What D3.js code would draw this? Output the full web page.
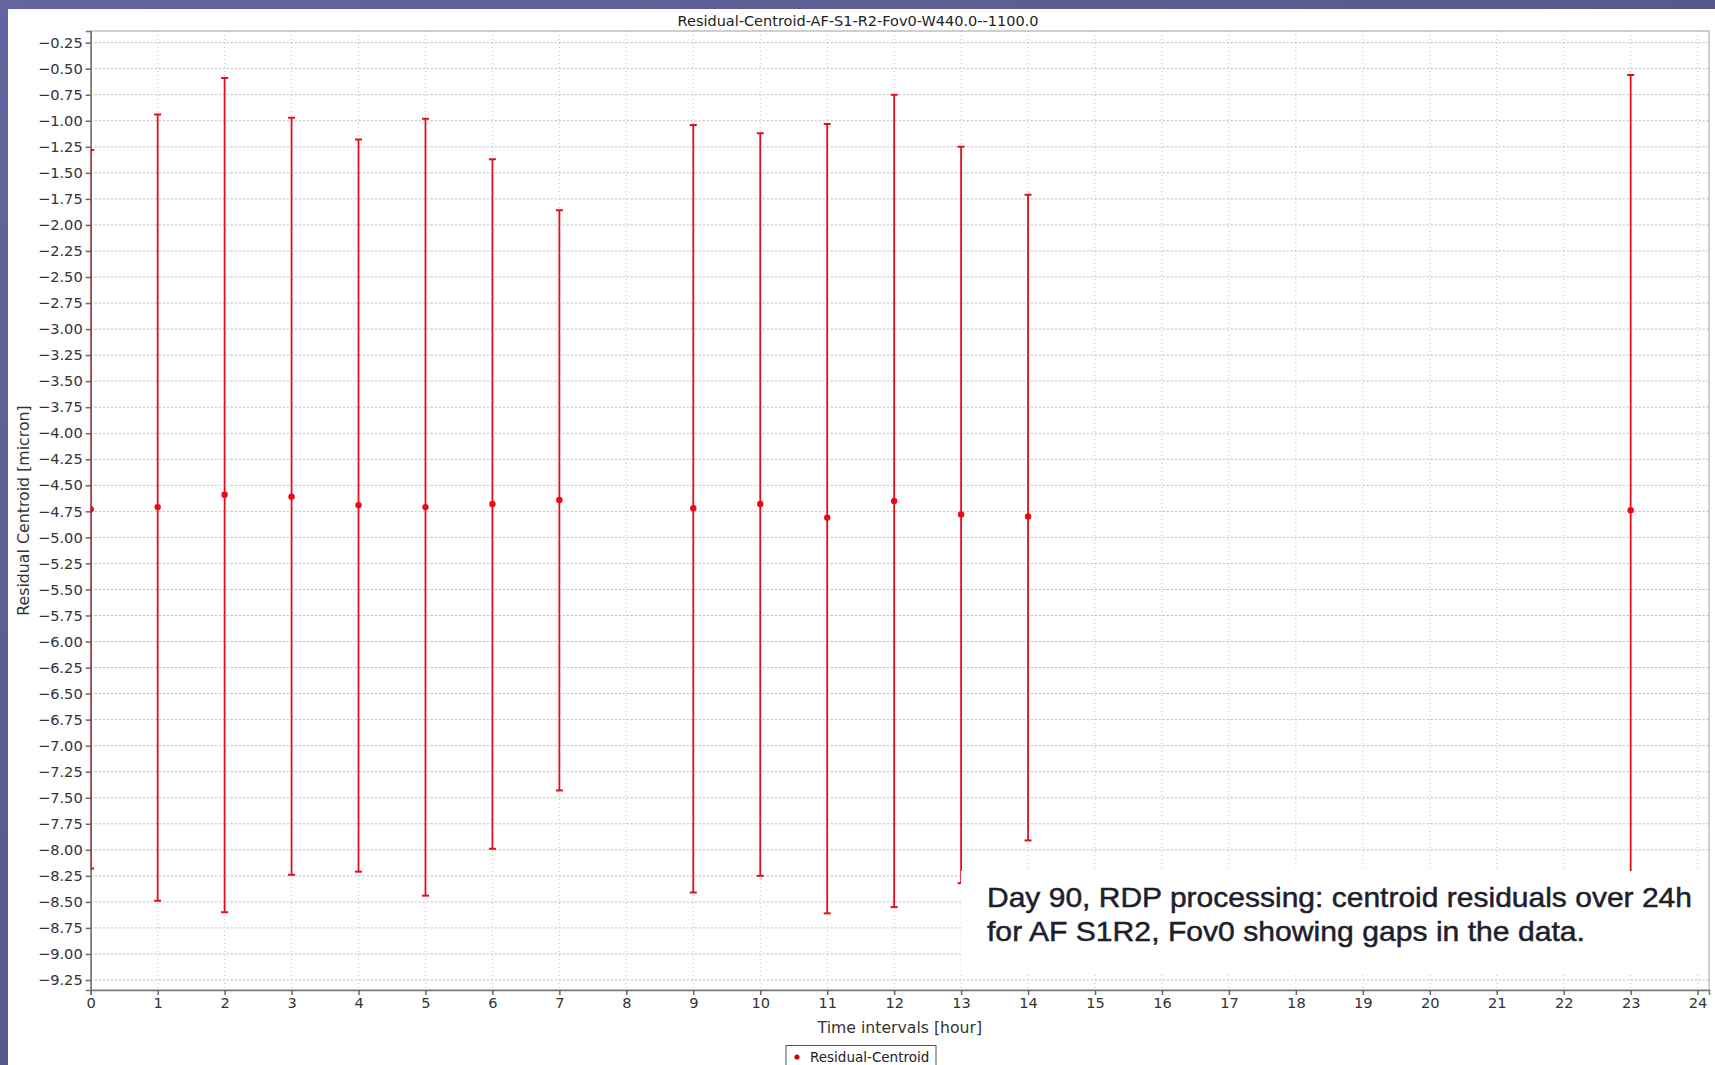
<!DOCTYPE html>
<html>
<head>
<meta charset="utf-8">
<script src="https://cdn.jsdelivr.net/npm/d3@7/dist/d3.min.js"></script>
<style>
  html, body { margin: 0; padding: 0; background: #55558a; overflow: hidden; }
  svg { display: block; }
  .tick text { font-family: "DejaVu Sans", sans-serif; fill: #333; }
</style>
</head>
<body>
<svg id="chart" width="1715" height="1065"></svg>
<script>
// Hourly centroid residuals (mean with +/- spread) for AF S1R2, Fov0
const hours = [0, 1, 2, 3, 4, 5, 6, 7, 9, 10, 11, 12, 13, 14, 23];
const means = [-4.73, -4.71, -4.59, -4.61, -4.69, -4.71, -4.68, -4.64, -4.72, -4.68, -4.81, -4.65, -4.78, -4.80, -4.74];
const upper = [-1.28, -0.94, -0.59, -0.97, -1.18, -0.98, -1.37, -1.86, -1.04, -1.12, -1.03, -0.75, -1.25, -1.71, -0.56];
const lower = [-8.18, -8.49, -8.60, -8.24, -8.21, -8.44, -7.99, -7.43, -8.41, -8.25, -8.61, -8.55, -8.32, -7.91, -8.92];

const xTickValues = [0, 1, 2, 3, 4, 5, 6, 7, 8, 9, 10, 11, 12, 13, 14, 15, 16, 17, 18, 19, 20, 21, 22, 23, 24];
const yTickValues = [-9.25, -9.00, -8.75, -8.50, -8.25, -8.00, -7.75, -7.50, -7.25, -7.00, -6.75, -6.50, -6.25,
  -6.00, -5.75, -5.50, -5.25, -5.00, -4.75, -4.50, -4.25, -4.00, -3.75, -3.50, -3.25, -3.00, -2.75, -2.50,
  -2.25, -2.00, -1.75, -1.50, -1.25, -1.00, -0.75, -0.50, -0.25];

const chartTitle = "Residual-Centroid-AF-S1-R2-Fov0-W440.0--1100.0";
const xTitle = "Time intervals [hour]";
const yTitle = "Residual Centroid [micron]";
const seriesName = "Residual-Centroid";
const noteLines = [
  "Day 90, RDP processing: centroid residuals over 24h",
  "for AF S1R2, Fov0 showing gaps in the data."
];

const points = hours.map((h, i) => ({ h, mean: means[i], hi: upper[i], lo: lower[i] }));

const svg = d3.select("#chart");

// slide background
const defs = svg.append("defs");
const bg = defs.append("linearGradient").attr("id", "bg")
  .attr("x1", "0").attr("y1", "0").attr("x2", "1").attr("y2", "1");
bg.append("stop").attr("offset", "0").attr("stop-color", "#64659e");
bg.append("stop").attr("offset", "1").attr("stop-color", "#4a4b78");
svg.append("rect").attr("width", 1715).attr("height", 1065).attr("fill", "url(#bg)");

// chart panel
svg.append("rect").attr("x", 8).attr("y", 9).attr("width", 1707).attr("height", 1056).attr("fill", "#fff");

const plot = { left: 90.7, right: 1709, top: 31, bottom: 990 };

const x = d3.scaleLinear().domain([0, 24.17]).range([plot.left, plot.right]);
const y = d3.scaleLinear().domain([-9.346, -0.138]).range([plot.bottom, plot.top]);

defs.append("clipPath").attr("id", "plotClip")
  .append("rect")
  .attr("x", plot.left).attr("y", plot.top)
  .attr("width", plot.right - plot.left).attr("height", plot.bottom - plot.top);

// grid
const grid = svg.append("g");
grid.selectAll("line.h").data(yTickValues).join("line")
  .attr("x1", plot.left).attr("x2", plot.right)
  .attr("y1", d => y(d)).attr("y2", d => y(d))
  .attr("stroke", "#b8b8b8").attr("stroke-width", 1).attr("stroke-dasharray", "2,2");
grid.selectAll("line.v").data(xTickValues).join("line")
  .attr("y1", plot.top).attr("y2", plot.bottom)
  .attr("x1", d => x(d)).attr("x2", d => x(d))
  .attr("stroke", "#c4c4c4").attr("stroke-width", 1).attr("stroke-dasharray", "1,3");

// plot outline
svg.append("rect")
  .attr("x", plot.left).attr("y", plot.top)
  .attr("width", plot.right - plot.left).attr("height", plot.bottom - plot.top)
  .attr("fill", "none").attr("stroke", "#a0a0a0").attr("stroke-width", 1);

// axes
const yAxis = svg.append("g").attr("transform", `translate(${plot.left},0)`)
  .call(d3.axisLeft(y).tickValues(yTickValues).tickFormat(d3.format(".2f")).tickSize(5).tickPadding(3));
yAxis.selectAll("text").attr("font-size", 14.6);
const xAxis = svg.append("g").attr("transform", `translate(0,${plot.bottom})`)
  .call(d3.axisBottom(x).tickValues(xTickValues).tickFormat(d3.format("d")).tickSize(5).tickPadding(3));
xAxis.selectAll("text").attr("font-size", 14.6);
[yAxis, xAxis].forEach(a => {
  a.select(".domain").attr("stroke", "#777").attr("stroke-width", 1.5);
  a.selectAll(".tick line").attr("stroke", "#666").attr("stroke-width", 1.5);
});

// error bars and means
const marks = svg.append("g").attr("clip-path", "url(#plotClip)");
const red = "#e0101c";
marks.selectAll("line.bar").data(points).join("line")
  .attr("x1", d => x(d.h)).attr("x2", d => x(d.h))
  .attr("y1", d => y(d.hi)).attr("y2", d => y(d.lo))
  .attr("stroke", red).attr("stroke-width", 1.8);
marks.selectAll("line.capHi").data(points).join("line")
  .attr("x1", d => x(d.h) - 3.5).attr("x2", d => x(d.h) + 3.5)
  .attr("y1", d => y(d.hi)).attr("y2", d => y(d.hi))
  .attr("stroke", red).attr("stroke-width", 2);
marks.selectAll("line.capLo").data(points).join("line")
  .attr("x1", d => x(d.h) - 3.5).attr("x2", d => x(d.h) + 3.5)
  .attr("y1", d => y(d.lo)).attr("y2", d => y(d.lo))
  .attr("stroke", red).attr("stroke-width", 2);
marks.selectAll("circle").data(points).join("circle")
  .attr("cx", d => x(d.h)).attr("cy", d => y(d.mean)).attr("r", 3.2)
  .attr("fill", "#ee0a14");

// titles
const font = "DejaVu Sans, sans-serif";
svg.append("text").attr("x", 858).attr("y", 26).attr("text-anchor", "middle")
  .attr("font-family", font).attr("font-size", 14.5).attr("fill", "#222").text(chartTitle);
svg.append("text").attr("x", (plot.left + plot.right) / 2).attr("y", 1033).attr("text-anchor", "middle")
  .attr("font-family", font).attr("font-size", 15.7).attr("fill", "#333").text(xTitle);
svg.append("text").attr("transform", `translate(29,${(plot.top + plot.bottom) / 2}) rotate(-90)`)
  .attr("text-anchor", "middle")
  .attr("font-family", font).attr("font-size", 15.8).attr("fill", "#333").text(yTitle);

// legend
const legend = svg.append("g");
legend.append("rect").attr("x", 786).attr("y", 1045.5).attr("width", 150).attr("height", 30)
  .attr("fill", "#fff").attr("stroke", "#555").attr("stroke-width", 1);
legend.append("circle").attr("cx", 797).attr("cy", 1057).attr("r", 2.6).attr("fill", "#d00010");
legend.append("text").attr("x", 810).attr("y", 1061.5)
  .attr("font-family", font).attr("font-size", 13.5).attr("fill", "#222").text(seriesName);

// annotation box
const note = svg.append("g");
note.append("rect").attr("x", 961).attr("y", 871).attr("width", 747).attr("height", 101).attr("fill", "#fff");
note.selectAll("text").data(noteLines).join("text")
  .attr("x", 987).attr("y", (d, i) => 907 + i * 34)
  .attr("font-family", "Liberation Sans, Arial, sans-serif").attr("font-size", 28)
  .attr("fill", "#1e1e2c").attr("stroke", "#1e1e2c").attr("stroke-width", 0.5)
  .attr("textLength", (d, i) => i === 0 ? 705 : 598).attr("lengthAdjust", "spacingAndGlyphs")
  .text(d => d);
</script>
</body>
</html>
